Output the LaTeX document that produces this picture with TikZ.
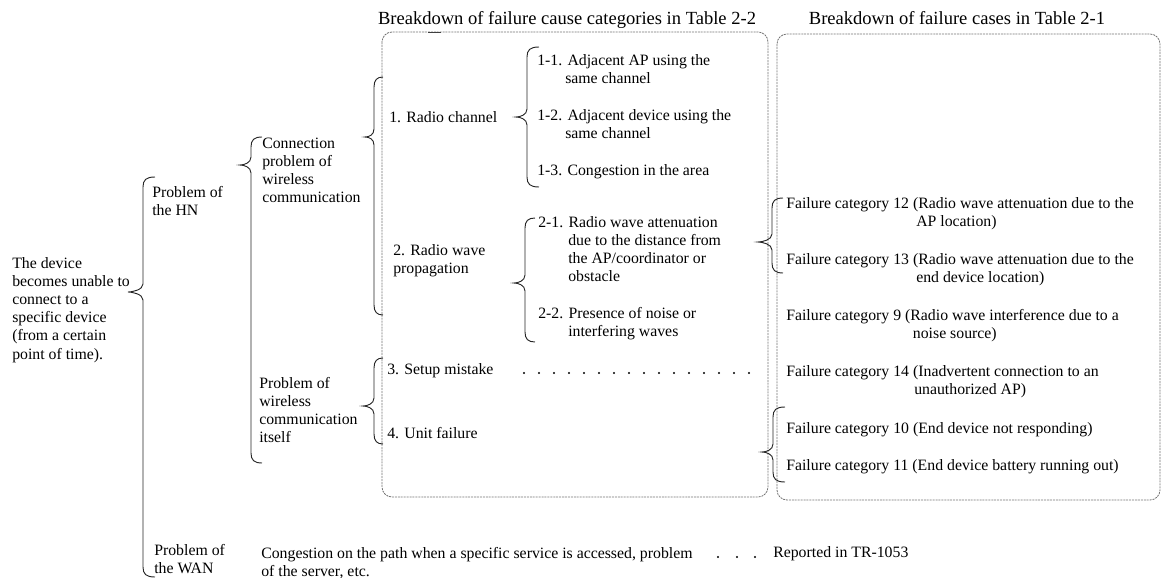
\documentclass[tikz,border=0pt]{standalone}
\usepackage{fontspec}
\setmainfont{Liberation Serif}
\newcommand\bodyfont{\fontsize{11.85}{13.65}\selectfont}
\newcommand\headfont{\fontsize{13.9}{16}\selectfont}
\newcommand\txtlines[1]{\begin{tabular}[t]{@{}l@{}}#1\end{tabular}}
% curly brace: #1 stem x, #2 tip x, #3 top y, #4 tip y, #5 bottom y, #6 x where the end curls finish
\newcommand\curlybr[6]{%
  \draw[bracestyle] (#6,#3) .. controls (#1+3,#3) and (#1,#3+3) .. (#1,#3+10)
    -- (#1,#4-8) .. controls (#1,#4-2) and (#2+4,#4) .. (#2,#4)
    .. controls (#2+4,#4) and (#1,#4+2) .. (#1,#4+8)
    -- (#1,#5-10) .. controls (#1,#5-3) and (#1+3,#5) .. (#6,#5);}
\tikzset{
  txt/.style={anchor=base west, inner sep=0pt, font=\bodyfont},
  head/.style={anchor=base, inner sep=0pt, font=\headfont},
  bracestyle/.style={draw=black!85, line width=0.7pt},
  panel/.style={draw=black!55, dash pattern=on 1.5pt off 0.7pt, line width=0.6pt, rounded corners=7.5pt},
}
\begin{document}
\begin{tikzpicture}[x=0.75pt,y=-0.75pt]
\useasboundingbox (0,0) rectangle (1161,578);

% dashed panels
\draw[panel] (382,32) rectangle (768,497);
\draw[panel] (777,34) rectangle (1160,500);
\draw[black!75, line width=0.6pt] (428,32) -- (441,32);

% panel headings
\node[head] (h1) at (567,24) {Breakdown of failure cause categories in Table 2-2};
\node[head] (h2) at (957,24) {Breakdown of failure cases in Table 2-1};

% root and first level
\node[txt] (root) at (12,268) {\txtlines{The device\\becomes unable to\\connect to a\\specific device\\(from a certain\\point of time).}};
\node[txt] (hn)  at (152,197) {\txtlines{Problem of\\the HN}};
\node[txt] (wan) at (154,555) {\txtlines{Problem of\\the WAN}};

% second level
\node[txt] (conn)   at (262,148) {\txtlines{Connection\\problem of\\wireless\\communication}};
\node[txt] (itself) at (259,388) {\txtlines{Problem of\\wireless\\communication\\itself}};

% cause categories
\node[txt] (c1) at (389,122) {1. Radio channel};
\node[txt] (c2) at (393,255) {\txtlines{2. Radio wave\\propagation}};
\node[txt] (c3) at (387,374) {3. Setup mistake};
\node[txt] (c4) at (387,438) {4. Unit failure};

% sub-causes
\node[txt] (c11) at (537,65)  {\txtlines{1-1. Adjacent AP using the\\\hspace*{21pt}same channel}};
\node[txt] (c12) at (537,120) {\txtlines{1-2. Adjacent device using the\\\hspace*{21pt}same channel}};
\node[txt] (c13) at (537,175) {1-3. Congestion in the area};
\node[txt] (c21) at (538,227) {\txtlines{2-1. Radio wave attenuation\\\hspace*{22.5pt}due to the distance from\\\hspace*{22.5pt}the AP/coordinator or\\\hspace*{22.5pt}obstacle}};
\node[txt] (c22) at (538,318) {\txtlines{2-2. Presence of noise or\\\hspace*{22.5pt}interfering waves}};

% failure cases
\node[txt] (f12) at (786,208) {\txtlines{Failure category 12 (Radio wave attenuation due to the\\\hspace*{97.5pt}AP location)}};
\node[txt] (f13) at (786,264) {\txtlines{Failure category 13 (Radio wave attenuation due to the\\\hspace*{97.5pt}end device location)}};
\node[txt] (f9)  at (786,320) {\txtlines{Failure category 9 (Radio wave interference due to a\\\hspace*{95pt}noise source)}};
\node[txt] (f14) at (786,376) {\txtlines{Failure category 14 (Inadvertent connection to an\\\hspace*{96pt}unauthorized AP)}};
\node[txt] (f10) at (786,433) {Failure category 10 (End device not responding)};
\node[txt] (f11) at (786,470) {Failure category 11 (End device battery running out)};

% WAN row
\node[txt] (cong) at (261,558) {\txtlines{Congestion on the path when a specific service is accessed, problem\\of the server, etc.}};
\node[txt] (tr) at (773,557) {Reported in TR-1053};

% dot leaders
\foreach \i in {0,...,15} \fill (524+15*\i,373) circle (1.1);
\foreach \xx in {718,737,755} \fill (\xx,557) circle (1.1);

% braces
\curlybr{143}{128}{177}{292}{577}{155}
\curlybr{251}{240}{137}{165}{463}{262}
\curlybr{374}{365}{77}{137}{315}{383}
\curlybr{374}{363}{358}{406}{444}{383}
\curlybr{527}{516}{47}{117}{187}{539}
\curlybr{525}{514}{218}{283}{342}{535}
\curlybr{772}{758}{198}{242}{273}{783}
\curlybr{773}{762}{407}{452}{482}{785}
\end{tikzpicture}
\end{document}
